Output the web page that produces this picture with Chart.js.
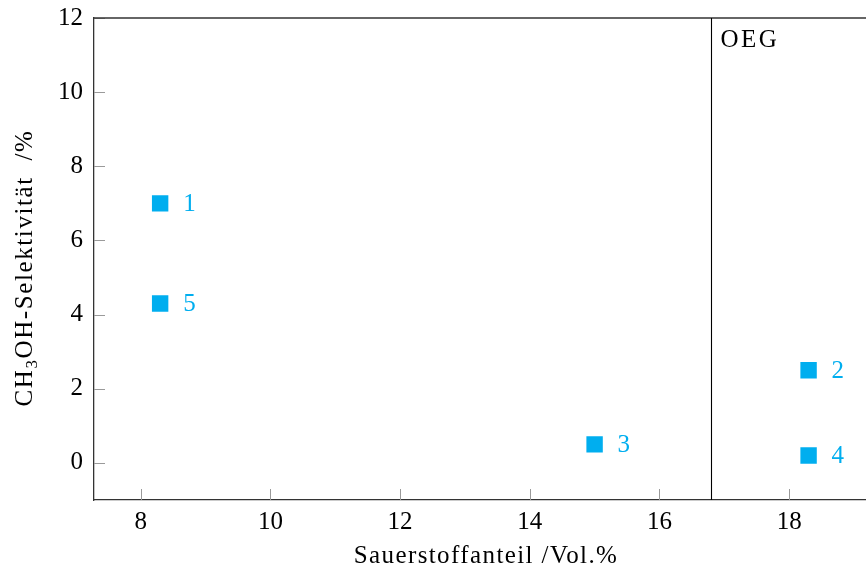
<!DOCTYPE html>
<html>
<head>
<meta charset="utf-8">
<script src="https://cdn.jsdelivr.net/npm/chart.js@4/dist/chart.umd.min.js"></script>
<style>
  html, body { margin: 0; padding: 0; background: #fff; overflow: hidden; }
  #wrap { width: 898px; height: 570px; }
</style>
</head>
<body>
<div id="wrap"><canvas id="c" width="898" height="570"></canvas></div>
<script>
// Oxygen fraction (vol.%) vs. methanol selectivity (%) per experiment
const runLabels = ["1", "5", "3", "2", "4"];
const oxygenPct = [8.3, 8.3, 15.0, 18.3, 18.3];
const methanolSelectivity = [7.0, 4.3, 0.5, 2.5, 0.2];
const xTickValues = [8, 10, 12, 14, 16, 18];
const yTickValues = [0, 2, 4, 6, 8, 10, 12];
const oegLimit = 16.8; // upper explosion limit marker

const CYAN = "rgb(0,174,239)";
const FONT = "'Liberation Serif', 'DejaVu Serif', serif";
const FS = 25;

const points = oxygenPct.map((x, i) => ({ x, y: methanolSelectivity[i] }));

// Axis frame, inward ticks, limit line, point labels and axis titles
const decorations = {
  id: "decorations",
  beforeDatasetsDraw(chart) {
    const { ctx, chartArea: a, scales } = chart;
    const xs = scales.x, ys = scales.y;
    ctx.save();
    // inward tick marks
    ctx.strokeStyle = "#9a9a9a";
    ctx.lineWidth = 1;
    ctx.beginPath();
    xTickValues.forEach(v => {
      const px = Math.round(xs.getPixelForValue(v)) + 0.5;
      ctx.moveTo(px, a.bottom); ctx.lineTo(px, a.bottom - 11);
    });
    yTickValues.forEach(v => {
      const py = Math.round(ys.getPixelForValue(v)) + 0.5;
      ctx.moveTo(a.left, py); ctx.lineTo(a.left + 11, py);
    });
    ctx.stroke();
    // top frame line
    ctx.strokeStyle = "#333";
    ctx.lineWidth = 1.3;
    ctx.beginPath();
    ctx.moveTo(a.left, a.top); ctx.lineTo(chart.width, a.top);
    ctx.stroke();
    // OEG limit line
    const lx = Math.round(xs.getPixelForValue(oegLimit)) + 0.5;
    ctx.strokeStyle = "#000";
    ctx.lineWidth = 1.1;
    ctx.beginPath();
    ctx.moveTo(lx, a.top); ctx.lineTo(lx, a.bottom);
    ctx.stroke();
    ctx.fillStyle = "#000";
    ctx.font = FS + "px " + FONT;
    ctx.letterSpacing = "2.5px";
    ctx.textAlign = "left";
    ctx.textBaseline = "alphabetic";
    ctx.fillText("OEG", lx + 9, a.top + 29);
    ctx.restore();
  },
  afterDatasetsDraw(chart) {
    const { ctx } = chart;
    const meta = chart.getDatasetMeta(0);
    ctx.save();
    ctx.fillStyle = CYAN;
    ctx.font = FS + "px " + FONT;
    ctx.textAlign = "left";
    ctx.textBaseline = "middle";
    meta.data.forEach((el, i) => {
      ctx.fillText(runLabels[i], el.x + 23, el.y + 1);
    });
    // x-axis title
    ctx.fillStyle = "#000";
    ctx.textAlign = "center";
    ctx.textBaseline = "alphabetic";
    ctx.letterSpacing = "1.4px";
    ctx.fillText("Sauerstoffanteil /Vol.%", 486, 563);
    // y-axis title with subscript
    ctx.translate(32, 268);
    ctx.rotate(-Math.PI / 2);
    const big = FS + "px " + FONT, small = "17px " + FONT;
    const parts = [["CH", big, 0], ["3", small, 5], ["OH-Selektivität  /%", big, 0]];
    ctx.letterSpacing = "1.6px";
    let total = 0;
    parts.forEach(p => { ctx.font = p[1]; total += ctx.measureText(p[0]).width; });
    let cx = -total / 2;
    ctx.textAlign = "left";
    parts.forEach(p => {
      ctx.font = p[1];
      ctx.fillText(p[0], cx, p[2]);
      cx += ctx.measureText(p[0]).width;
    });
    ctx.restore();
  }
};

new Chart(document.getElementById("c"), {
  type: "scatter",
  data: {
    datasets: [{
      data: points,
      pointStyle: "rect",
      pointRadius: 11.6,
      pointHoverRadius: 11.6,
      backgroundColor: CYAN,
      borderColor: CYAN,
      borderWidth: 0
    }]
  },
  options: {
    responsive: false,
    animation: false,
    events: [],
    layout: { padding: { left: 0, top: 18, right: 10, bottom: 0 } },
    plugins: { legend: { display: false }, tooltip: { enabled: false } },
    scales: {
      x: {
        type: "linear",
        min: 7.28,
        max: 19.5,
        afterFit(s) { s.height = 70; s.paddingLeft = 0; s.paddingRight = 0; },
        afterBuildTicks(s) { s.ticks = xTickValues.map(v => ({ value: v })); },
        grid: { drawOnChartArea: false, drawTicks: false },
        border: { color: "#333", width: 1.3 },
        ticks: {
          padding: 7,
          color: "#000",
          font: { family: FONT, size: FS },
          maxRotation: 0,
          autoSkip: false
        }
      },
      y: {
        type: "linear",
        min: -1,
        max: 12,
        afterFit(s) { s.width = 94; s.paddingTop = 0; s.paddingBottom = 0; },
        afterBuildTicks(s) { s.ticks = yTickValues.map(v => ({ value: v })); },
        grid: { drawOnChartArea: false, drawTicks: false },
        border: { color: "#333", width: 1.3 },
        ticks: {
          padding: 11,
          color: "#000",
          font: { family: FONT, size: FS },
          autoSkip: false
        }
      }
    }
  },
  plugins: [decorations]
});
</script>
</body>
</html>
